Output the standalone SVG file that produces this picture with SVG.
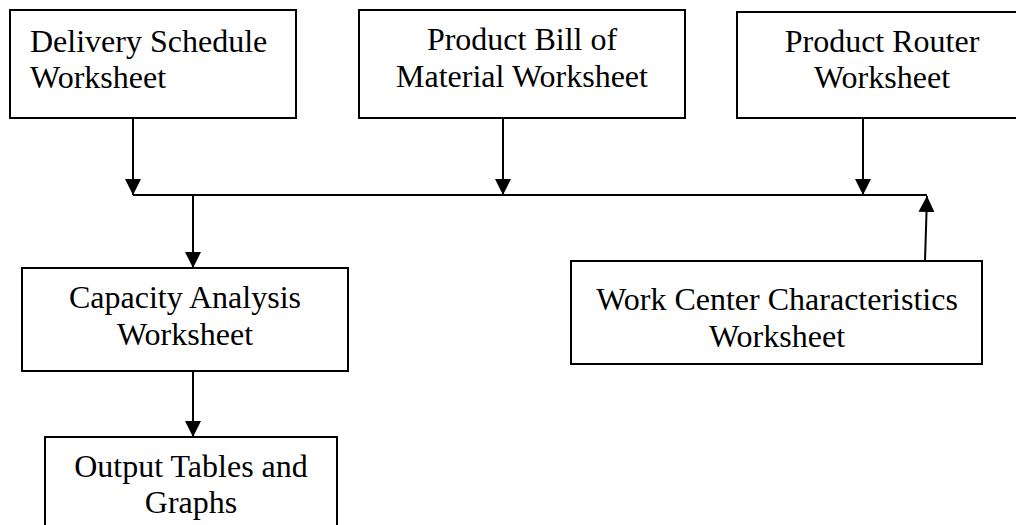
<svg xmlns="http://www.w3.org/2000/svg" width="1016" height="525" viewBox="0 0 1016 525">
<style>
.box{fill:#fff;stroke:#000;stroke-width:2}
.t{font-family:"Liberation Serif","Times New Roman",serif;font-size:32px;fill:#000}
.c{text-anchor:middle}
.ln{stroke:#000;stroke-width:2;fill:none}
</style>
<defs>
<marker id="ah" markerUnits="userSpaceOnUse" markerWidth="18" markerHeight="18" viewBox="0 0 18 18" refX="16" refY="9" orient="auto">
<path d="M0,1 L16,9 L0,17 Z" fill="#000"/>
</marker>
</defs>
<rect width="1016" height="525" fill="#fff"/>
<g id="delivery">
<rect class="box" x="10" y="10" width="286" height="108"/>
<text class="t" x="30" y="52">Delivery Schedule</text>
<text class="t" x="30" y="88">Worksheet</text>
</g>
<g id="bom">
<rect class="box" x="359" y="10" width="326" height="108"/>
<text class="t c" x="522" y="50">Product Bill of</text>
<text class="t c" x="522" y="87">Material Worksheet</text>
</g>
<g id="router">
<rect class="box" x="737" y="12" width="290" height="106"/>
<text class="t c" x="882" y="52">Product Router</text>
<text class="t c" x="882" y="88">Worksheet</text>
</g>
<g id="capacity">
<rect class="box" x="22" y="268" width="326" height="103"/>
<text class="t c" x="185" y="308">Capacity Analysis</text>
<text class="t c" x="185" y="345">Worksheet</text>
</g>
<g id="workcenter">
<rect class="box" x="571" y="261" width="411" height="103"/>
<text class="t c" x="777" y="310">Work Center Characteristics</text>
<text class="t c" x="777" y="347">Worksheet</text>
</g>
<g id="output">
<rect class="box" x="45" y="437" width="292" height="100"/>
<text class="t c" x="191" y="477">Output Tables and</text>
<text class="t c" x="191" y="513">Graphs</text>
</g>
<g id="connectors">
<line class="ln" x1="133" y1="195" x2="927" y2="195"/>
<line class="ln" x1="133" y1="118" x2="133" y2="195" marker-end="url(#ah)"/>
<line class="ln" x1="503" y1="118" x2="503" y2="195" marker-end="url(#ah)"/>
<line class="ln" x1="863" y1="118" x2="863" y2="195" marker-end="url(#ah)"/>
<line class="ln" x1="925" y1="261" x2="927" y2="196" marker-end="url(#ah)"/>
<line class="ln" x1="193" y1="196" x2="193" y2="268" marker-end="url(#ah)"/>
<line class="ln" x1="193" y1="371" x2="193" y2="437" marker-end="url(#ah)"/>
</g>
</svg>
